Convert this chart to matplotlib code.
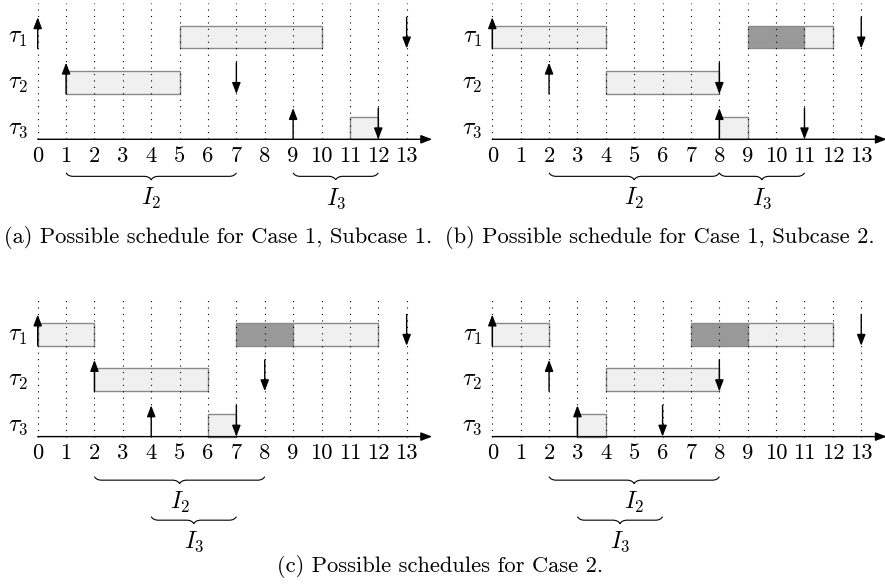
import matplotlib
matplotlib.use('Agg')
import matplotlib.pyplot as plt
from matplotlib.path import Path
from matplotlib.patches import PathPatch

plt.rcParams['mathtext.fontset'] = 'cm'
plt.rcParams['font.family'] = 'cmr10'
plt.rcParams['axes.unicode_minus'] = False

# ---------------- data ----------------
times = list(range(14))
tick_labels = [str(t) for t in times]
task_labels = [r'$\tau_1$', r'$\tau_2$', r'$\tau_3$']

# (a) Case 1, Subcase 1
a_exec_task = [1, 2, 3]
a_exec_start = [5, 1, 11]
a_exec_end = [10, 5, 12]
a_exec_dark = [False, False, False]
a_release = [0, 1, 9]
a_deadline = [13, 7, 12]
a_int_names = [r'$I_2$', r'$I_3$']
a_int_start = [1, 9]
a_int_end = [7, 12]
a_int_level = [0, 0]

# (b) Case 1, Subcase 2
b_exec_task = [1, 1, 1, 2, 3]
b_exec_start = [0, 9, 11, 4, 8]
b_exec_end = [4, 11, 12, 8, 9]
b_exec_dark = [False, True, False, False, False]
b_release = [0, 2, 8]
b_deadline = [13, 8, 11]
b_int_names = [r'$I_2$', r'$I_3$']
b_int_start = [2, 8]
b_int_end = [8, 11]
b_int_level = [0, 0]

# (c) Case 2, left
c1_exec_task = [1, 1, 1, 2, 3]
c1_exec_start = [0, 7, 9, 2, 6]
c1_exec_end = [2, 9, 12, 6, 7]
c1_exec_dark = [False, True, False, False, False]
c1_release = [0, 2, 4]
c1_deadline = [13, 8, 7]
c1_int_names = [r'$I_2$', r'$I_3$']
c1_int_start = [2, 4]
c1_int_end = [8, 7]
c1_int_level = [0, 1]

# (c) Case 2, right
c2_exec_task = [1, 1, 1, 2, 3]
c2_exec_start = [0, 7, 9, 4, 3]
c2_exec_end = [2, 9, 12, 8, 4]
c2_exec_dark = [False, True, False, False, False]
c2_release = [0, 2, 3]
c2_deadline = [13, 8, 6]
c2_int_names = [r'$I_2$', r'$I_3$']
c2_int_start = [2, 3]
c2_int_end = [8, 6]
c2_int_level = [0, 1]

captions = ['(a) Possible schedule for Case 1, Subcase 1.',
            '(b) Possible schedule for Case 1, Subcase 2.',
            '(c) Possible schedules for Case 2.']

# ---------------- layout / style ----------------
W, H, DPI = 885, 588, 100
U = 28.38          # pixels per time unit
ROW_GAP = 1.6
BAR_H = 0.8
ARROW_LEN = 1.1
GRID_TOP = 4.8
XLIM = (-1.4, 14.3)
YLIM = (-4.1, 4.95)
LIGHT = '#f0f0f0'
DARK = '#999999'
EDGE = '#8a8a8a'
FS = 16.2
ARROWSTYLE = '-|>,head_length=0.42,head_width=0.16'


def row_base(task):
    return (3 - task) * ROW_GAP


def make_axes(fig, ox, oy):
    left = ox + XLIM[0] * U
    width = (XLIM[1] - XLIM[0]) * U
    top = oy - YLIM[1] * U
    height = (YLIM[1] - YLIM[0]) * U
    ax = fig.add_axes([left / W, 1 - (top + height) / H, width / W, height / H])
    ax.set_xlim(*XLIM)
    ax.set_ylim(*YLIM)
    ax.axis('off')
    return ax


def brace(ax, x1, x2, y0, a):
    m = (x1 + x2) / 2
    verts = [(x1, y0),
             (x1 + .15 * a, y0 - .3 * a), (x1 + .5 * a, y0 - .5 * a), (x1 + a, y0 - .5 * a),
             (m - a, y0 - .5 * a),
             (m - .5 * a, y0 - .5 * a), (m - .15 * a, y0 - .7 * a), (m, y0 - a),
             (m + .15 * a, y0 - .7 * a), (m + .5 * a, y0 - .5 * a), (m + a, y0 - .5 * a),
             (x2 - a, y0 - .5 * a),
             (x2 - .5 * a, y0 - .5 * a), (x2 - .15 * a, y0 - .3 * a), (x2, y0)]
    codes = ([Path.MOVETO] + [Path.CURVE4] * 3 + [Path.LINETO] + [Path.CURVE4] * 6
             + [Path.LINETO] + [Path.CURVE4] * 3)
    ax.add_patch(PathPatch(Path(verts, codes), fc='none', ec='black', lw=0.8,
                           clip_on=False))


def arrow(ax, x, y_from, y_to):
    ax.annotate('', xy=(x, y_to), xytext=(x, y_from),
                arrowprops=dict(arrowstyle=ARROWSTYLE, lw=1.0, color='black',
                                mutation_scale=16, shrinkA=0, shrinkB=0),
                zorder=5)


def draw_panel(ax, et, es, ee, ed, rel, dl, inames, istart, iend, ilevel,
               brace_tops):
    # execution bars
    for t, s, e, d in zip(et, es, ee, ed):
        ax.barh(row_base(t), e - s, left=s, height=BAR_H, align='edge',
                color=DARK if d else LIGHT, edgecolor=EDGE, lw=1.0, zorder=2)
    # dotted grid
    for t in times:
        ax.plot([t, t], [0, GRID_TOP], color='black', lw=0.8,
                linestyle=(0, (1, 4.8)), zorder=3)
    # time axis
    ax.annotate('', xy=(13.9, 0), xytext=(0, 0),
                arrowprops=dict(arrowstyle=ARROWSTYLE, lw=1.0, color='black',
                                mutation_scale=16, shrinkA=0, shrinkB=0),
                zorder=6)
    for t, lab in zip(times, tick_labels):
        ax.text(t, -0.6, lab, ha='center', va='center', fontsize=FS)
    # task labels
    for i, lab in enumerate(task_labels):
        ax.text(-0.7, row_base(i + 1) + 0.36, lab, ha='center', va='center',
                fontsize=FS + 1)
    # releases and deadlines
    for i, r in enumerate(rel):
        b = row_base(i + 1)
        arrow(ax, r, b, b + ARROW_LEN)
    for i, d in enumerate(dl):
        b = row_base(i + 1)
        arrow(ax, d, b + ARROW_LEN, b)
    # intervals
    for n, s, e, lv in zip(inames, istart, iend, ilevel):
        y0 = brace_tops[lv]
        brace(ax, s, e, y0, 0.25)
        ax.text((s + e) / 2, y0 - 0.9, n, ha='center', va='center',
                fontsize=FS + 1)


fig = plt.figure(figsize=(W / DPI, H / DPI), dpi=DPI)
fig.patch.set_facecolor('white')

ax_a = make_axes(fig, 37.7, 139.3)
draw_panel(ax_a, a_exec_task, a_exec_start, a_exec_end, a_exec_dark,
           a_release, a_deadline, a_int_names, a_int_start, a_int_end,
           a_int_level, [-1.18])
ax_b = make_axes(fig, 492.3, 139.3)
draw_panel(ax_b, b_exec_task, b_exec_start, b_exec_end, b_exec_dark,
           b_release, b_deadline, b_int_names, b_int_start, b_int_end,
           b_int_level, [-1.18])
ax_c1 = make_axes(fig, 37.7, 436.6)
draw_panel(ax_c1, c1_exec_task, c1_exec_start, c1_exec_end, c1_exec_dark,
           c1_release, c1_deadline, c1_int_names, c1_int_start, c1_int_end,
           c1_int_level, [-1.41, -2.82])
ax_c2 = make_axes(fig, 492.3, 436.6)
draw_panel(ax_c2, c2_exec_task, c2_exec_start, c2_exec_end, c2_exec_dark,
           c2_release, c2_deadline, c2_int_names, c2_int_start, c2_int_end,
           c2_int_level, [-1.41, -2.82])

fig.text(218 / W, 1 - 237 / H, captions[0], ha='center', va='center', fontsize=FS)
fig.text(445 / W, 1 - 237 / H, captions[1], ha='left', va='center', fontsize=FS)
fig.text(440 / W, 1 - 567 / H, captions[2], ha='center', va='center', fontsize=FS)

fig.savefig('out.png', dpi=DPI, facecolor='white')
